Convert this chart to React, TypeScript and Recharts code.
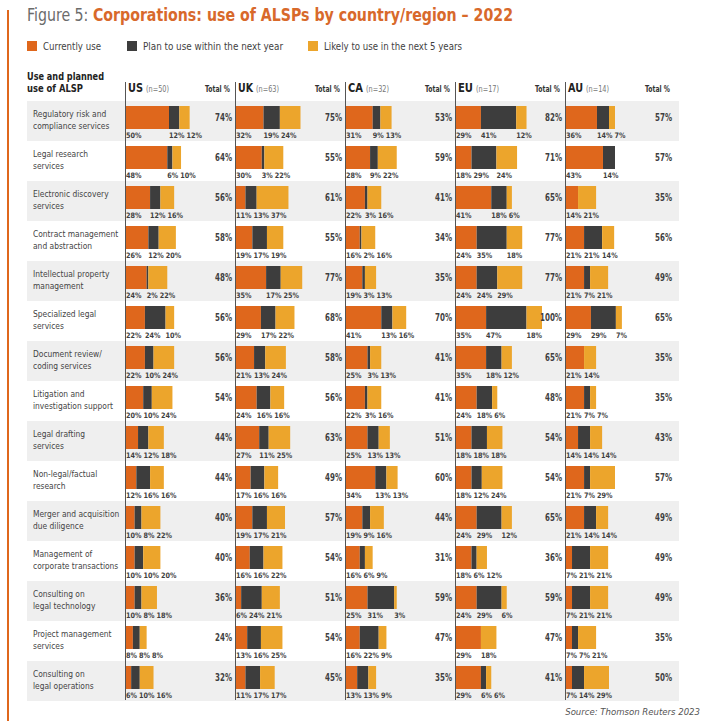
import React from "react";
import { BarChart, Bar, XAxis, YAxis, LabelList } from "recharts";

const categories = [
  "Regulatory risk and\ncompliance services",
  "Legal research\nservices",
  "Electronic discovery\nservices",
  "Contract management\nand abstraction",
  "Intellectual property\nmanagement",
  "Specialized legal\nservices",
  "Document review/\ncoding services",
  "Litigation and\ninvestigation support",
  "Legal drafting\nservices",
  "Non-legal/factual\nresearch",
  "Merger and acquisition\ndue diligence",
  "Management of\ncorporate transactions",
  "Consulting on\nlegal technology",
  "Project management\nservices",
  "Consulting on\nlegal operations",
];

const countries = ["US", "UK", "CA", "EU", "AU"];
const sampleSizes = [50, 63, 32, 17, 14];

const usCurrent = [50, 48, 28, 26, 24, 22, 22, 20, 14, 12, 10, 10, 10, 8, 6];
const usPlan = [12, 6, 12, 12, 2, 24, 10, 10, 12, 16, 8, 10, 8, 8, 10];
const usLikely = [12, 10, 16, 20, 22, 10, 24, 24, 18, 16, 22, 20, 18, 8, 16];
const usTotal = [74, 64, 56, 58, 48, 56, 56, 54, 44, 44, 40, 40, 36, 24, 32];

const ukCurrent = [32, 30, 11, 19, 35, 29, 21, 24, 27, 17, 19, 16, 6, 13, 11];
const ukPlan = [19, 3, 13, 17, 17, 17, 13, 16, 11, 16, 17, 16, 24, 16, 17];
const ukLikely = [24, 22, 37, 19, 25, 22, 24, 16, 25, 16, 21, 22, 21, 25, 17];
const ukTotal = [75, 55, 61, 55, 77, 68, 58, 56, 63, 49, 57, 54, 51, 54, 45];

const caCurrent = [31, 28, 22, 16, 19, 41, 25, 22, 25, 34, 19, 16, 25, 16, 13];
const caPlan = [9, 9, 3, 2, 3, 13, 3, 3, 13, 13, 9, 6, 31, 22, 13];
const caLikely = [13, 22, 16, 16, 13, 16, 13, 16, 13, 13, 16, 9, 3, 9, 9];
const caTotal = [53, 59, 41, 34, 35, 70, 41, 41, 51, 60, 44, 31, 59, 47, 35];

const euCurrent = [29, 18, 41, 24, 24, 35, 35, 24, 18, 18, 24, 18, 24, 29, 29];
const euPlan = [41, 29, 18, 35, 24, 47, 18, 18, 18, 12, 29, 6, 29, 0, 6];
const euLikely = [12, 24, 6, 18, 29, 18, 12, 6, 18, 24, 12, 12, 6, 18, 6];
const euTotal = [82, 71, 65, 77, 77, 100, 65, 48, 54, 54, 65, 36, 59, 47, 41];

const auCurrent = [36, 43, 14, 21, 21, 29, 21, 21, 14, 21, 21, 7, 7, 7, 7];
const auPlan = [14, 14, 0, 21, 7, 29, 0, 7, 14, 7, 14, 21, 21, 7, 14];
const auLikely = [7, 0, 21, 14, 21, 7, 14, 7, 14, 29, 14, 21, 21, 21, 29];
const auTotal = [57, 57, 35, 56, 49, 65, 35, 35, 43, 57, 49, 49, 49, 35, 50];

const seriesNames = ["Currently use", "Plan to use within the next year", "Likely to use in the next 5 years"];

const columns = [
  [usCurrent, usPlan, usLikely, usTotal],
  [ukCurrent, ukPlan, ukLikely, ukTotal],
  [caCurrent, caPlan, caLikely, caTotal],
  [euCurrent, euPlan, euLikely, euTotal],
  [auCurrent, auPlan, auLikely, auTotal],
];

const ORANGE = "#df671c";
const DARK = "#3d3d3d";
const YELLOW = "#eca52c";
const colors = [ORANGE, DARK, YELLOW];
const TEXT = "#3f3f3f";
const FONT = "'DejaVu Sans Condensed', 'DejaVu Sans', sans-serif";

const ROW_TOP = 101;
const ROW_H = 40;
const COL_X = 125;
const COL_W = 110;
const CHART_W = 110;
const LABEL_FS = 7.5;

// widths the reference's condensed face gives these small labels
const labelWidth = (v: number) => String(v).length * 4.5 + 6.5;
const totalWidth = (v: number) => String(v).length * 5 + 7;

// zero-height segments are skipped by the label list, so find the row by its name
function makeLabel(col: number[][], k: number) {
  return (props: any) => {
    const { x, y, width, height, value } = props;
    const row = categories.indexOf(value);
    if (row < 0) return null;
    const vals = [col[0][row], col[1][row], col[2][row]];
    const own = vals[k];
    if (!own) return null;
    const perUnit = width / own;
    let start = x - perUnit * vals.slice(0, k).reduce((a, b) => a + b, 0);
    let prevEnd = -Infinity;
    let pos = 0;
    for (let i = 0; i <= k; i++) {
      const v = vals[i];
      if (v > 0) {
        pos = Math.max(start, prevEnd + 2);
        prevEnd = pos + labelWidth(v);
      }
      start += v * perUnit;
    }
    return (
      <text
        x={pos}
        y={y + height + 6}
        dominantBaseline="central"
        fontSize={LABEL_FS}
        fontWeight={700}
        fill={TEXT}
        fontFamily={FONT}
        textLength={labelWidth(own)}
        lengthAdjust="spacingAndGlyphs"
      >
        {own}%
      </text>
    );
  };
}

function CountryChart({ idx }: { idx: number }) {
  const col = columns[idx];
  const data = categories.map((c, i) => ({
    name: c,
    current: col[0][i],
    plan: col[1][i],
    likely: col[2][i],
  }));
  const keys = ["current", "plan", "likely"];
  const totalTick = (p: any) => {
    const v = col[3][p.index];
    return (
      <text
        x={CHART_W - 4 - totalWidth(v)}
        y={p.y}
        dominantBaseline="central"
        fontSize={10}
        fontWeight={700}
        fill={TEXT}
        fontFamily={FONT}
        textLength={totalWidth(v)}
        lengthAdjust="spacingAndGlyphs"
      >
        {v}%
      </text>
    );
  };
  return (
    <div style={{ position: "absolute", left: COL_X + idx * COL_W + 1, top: ROW_TOP + 15.5 - ROW_H / 2 }}>
      <BarChart
        width={CHART_W}
        height={ROW_H * categories.length + 12}
        data={data}
        layout="vertical"
        margin={{ top: 0, right: 0, bottom: 12, left: 0 }}
        barCategoryGap={0}
      >
        <XAxis type="number" domain={[0, 100]} hide />
        <YAxis yAxisId="l" type="category" dataKey="name" hide />
        <YAxis
          yAxisId="r"
          orientation="right"
          type="category"
          dataKey="name"
          width={24}
          interval={0}
          axisLine={false}
          tickLine={false}
          tick={totalTick}
        />
        {keys.map((key, k) => (
          <Bar
            key={key}
            yAxisId="l"
            dataKey={key}
            stackId="a"
            fill={colors[k]}
            barSize={23}
            isAnimationActive={false}
          >
            <LabelList dataKey="name" content={makeLabel(col, k)} />
          </Bar>
        ))}
      </BarChart>
    </div>
  );
}

export default function App() {
  const legendX = [27, 127, 308];
  const legendW = [58, 140, 138];
  return (
    <div
      style={{
        position: "absolute",
        left: 0,
        top: 0,
        width: 708,
        height: 727,
        background: "#fff",
        fontFamily: FONT,
        color: TEXT,
        overflow: "hidden",
      }}
    >
      <div style={{ position: "absolute", left: 7, top: 10, width: 1.5, height: 711, background: ORANGE }} />

      {categories.map((c, i) => (
        <div
          key={c}
          style={{
            position: "absolute",
            left: 27,
            top: ROW_TOP + i * ROW_H,
            width: 652,
            height: ROW_H,
            background: i % 2 === 0 ? "#efefef" : "#fff",
          }}
        >
          <div
            style={{
              position: "absolute",
              left: 6,
              top: 0,
              height: ROW_H - 2,
              display: "flex",
              alignItems: "center",
              whiteSpace: "pre-line",
              fontSize: 9.5,
              lineHeight: "12px",
              color: "#444",
              transform: "scaleX(0.88)",
              transformOrigin: "left center",
            }}
          >
            {c}
          </div>
        </div>
      ))}

      {countries.map((c, i) => (
        <div
          key={c}
          style={{
            position: "absolute",
            left: COL_X + i * COL_W,
            top: 82,
            width: 1.2,
            height: 618,
            background: "#555",
          }}
        />
      ))}

      <svg width={708} height={100} style={{ position: "absolute", left: 0, top: 0 }} fontFamily={FONT}>
        <text x={27} y={21} fontSize={18} textLength={486} lengthAdjust="spacingAndGlyphs">
          <tspan fill="#6b6b6b">Figure 5: </tspan>
          <tspan fill="#d8692b" fontWeight={700}>
            Corporations: use of ALSPs by country/region – 2022
          </tspan>
        </text>
        {seriesNames.map((s, i) => (
          <g key={s}>
            <rect x={legendX[i]} y={41} width={10} height={10} fill={colors[i]} />
            <text
              x={legendX[i] + 16}
              y={46}
              dominantBaseline="central"
              fontSize={10.5}
              fill={TEXT}
              textLength={legendW[i]}
              lengthAdjust="spacingAndGlyphs"
            >
              {s}
            </text>
          </g>
        ))}
        <text x={27} y={80} fontSize={10.5} fontWeight={700} fill="#222" textLength={77} lengthAdjust="spacingAndGlyphs">
          Use and planned
        </text>
        <text x={27} y={92} fontSize={10.5} fontWeight={700} fill="#222" textLength={56} lengthAdjust="spacingAndGlyphs">
          use of ALSP
        </text>
        {countries.map((c, i) => (
          <g key={c}>
            <text
              x={COL_X + i * COL_W + 3}
              y={92}
              fontSize={11.5}
              fontWeight={700}
              fill="#222"
              textLength={15}
              lengthAdjust="spacingAndGlyphs"
            >
              {c}
            </text>
            <text
              x={COL_X + i * COL_W + 21}
              y={92}
              fontSize={8}
              fill="#777"
              textLength={23}
              lengthAdjust="spacingAndGlyphs"
            >
              (n={sampleSizes[i]})
            </text>
            <text
              x={COL_X + i * COL_W + 80}
              y={92}
              fontSize={8}
              fontWeight={700}
              fill="#333"
              textLength={25}
              lengthAdjust="spacingAndGlyphs"
            >
              Total %
            </text>
          </g>
        ))}
      </svg>

      {countries.map((c, i) => (
        <CountryChart key={c} idx={i} />
      ))}

      <svg width={708} height={727} style={{ position: "absolute", left: 0, top: 0, pointerEvents: "none" }} fontFamily={FONT}>
        <text x={700} y={715} textAnchor="end" fontSize={9.5} fontStyle="italic" fill="#555">
          Source: Thomson Reuters 2023
        </text>
      </svg>
    </div>
  );
}
